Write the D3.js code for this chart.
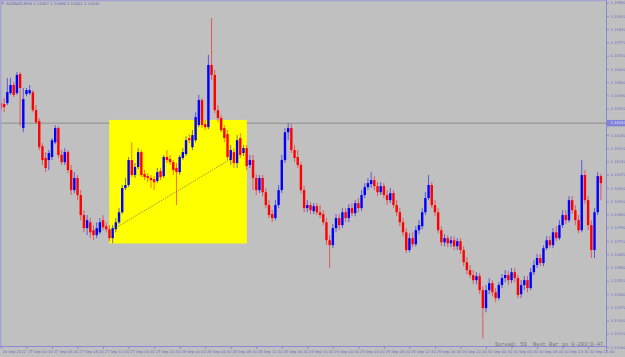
<!DOCTYPE html>
<html>
<head>
<meta charset="utf-8">
<script src="https://cdn.jsdelivr.net/npm/d3@7"></script>
<style>
  body { margin: 0; background: #c0c0c0; }
  svg { display: block; }
</style>
</head>
<body>
<div id="chart"></div>
<script>
// AUDNZD M30, bars from 26 Sep 20:30 onwards
var open = [
  1.14449, 1.14444, 1.14449, 1.14502, 1.14545, 1.14502, 1.14603, 1.14317, 1.14497, 1.14502,
  1.14507, 1.14412, 1.14354, 1.14221, 1.14159, 1.14148, 1.14164, 1.14242, 1.14317, 1.14175,
  1.14137, 1.14190, 1.14095, 1.13989, 1.14053, 1.13963, 1.13857, 1.13788, 1.13819, 1.13777,
  1.13751, 1.13766, 1.13830, 1.13798, 1.13782, 1.13735, 1.13782, 1.13819, 1.13872, 1.14000,
  1.14016, 1.14148, 1.14069, 1.14111, 1.14190, 1.14074, 1.14063, 1.14053, 1.14047, 1.14037,
  1.14090, 1.14063, 1.14164, 1.14153, 1.14137, 1.14106, 1.14084, 1.14159, 1.14180, 1.14264,
  1.14216, 1.14253, 1.14333, 1.14465, 1.14338, 1.14322, 1.14651, 1.14598, 1.14412, 1.14370,
  1.14317, 1.14285, 1.14148, 1.14190, 1.14132, 1.14264, 1.14185, 1.14211, 1.14122, 1.14148,
  1.14053, 1.13989, 1.14053, 1.13978, 1.13910, 1.13862, 1.13841, 1.13910, 1.13989, 1.14148,
  1.14295, 1.14317, 1.14201, 1.14164, 1.14122, 1.13989, 1.13894, 1.13910, 1.13878, 1.13904,
  1.13872, 1.13862, 1.13819, 1.13724, 1.13698, 1.13788, 1.13841, 1.13804, 1.13872, 1.13841,
  1.13894, 1.13867, 1.13920, 1.13894, 1.13963, 1.14005, 1.14021, 1.14042, 1.14010, 1.13978,
  1.14010, 1.13963, 1.13936, 1.13973, 1.13910, 1.13872, 1.13819, 1.13766, 1.13672, 1.13735,
  1.13703, 1.13777, 1.13798, 1.13872, 1.13947, 1.14016, 1.13910, 1.13872, 1.13777, 1.13713,
  1.13735, 1.13708, 1.13724, 1.13692, 1.13719, 1.13672, 1.13608, 1.13566, 1.13540, 1.13513,
  1.13534, 1.13460, 1.13365, 1.13460, 1.13497, 1.13449, 1.13418, 1.13487, 1.13524, 1.13540,
  1.13513, 1.13555, 1.13524, 1.13439, 1.13487, 1.13513, 1.13471, 1.13555, 1.13593, 1.13630,
  1.13603, 1.13682, 1.13724, 1.13698, 1.13766, 1.13735, 1.13804, 1.13857, 1.13830, 1.13936,
  1.13883, 1.13830, 1.13777, 1.14069, 1.13936, 1.13804, 1.13672, 1.13872, 1.14063
];
var high = [
  1.14465, 1.14476, 1.14582, 1.14582, 1.14560, 1.14613, 1.14613, 1.14529, 1.14529, 1.14545,
  1.14518, 1.14439, 1.14370, 1.14237, 1.14190, 1.14201, 1.14264, 1.14333, 1.14327, 1.14201,
  1.14211, 1.14201, 1.14122, 1.14084, 1.14069, 1.13989, 1.13883, 1.13857, 1.13841, 1.13804,
  1.13819, 1.13841, 1.13857, 1.13819, 1.13804, 1.13804, 1.13841, 1.13894, 1.14016, 1.14053,
  1.14164, 1.14242, 1.14132, 1.14211, 1.14201, 1.14095, 1.14079, 1.14069, 1.14063, 1.14106,
  1.14106, 1.14175, 1.14201, 1.14175, 1.14148, 1.14132, 1.14175, 1.14211, 1.14274, 1.14285,
  1.14306, 1.14401, 1.14492, 1.14476, 1.14359, 1.14704, 1.14899, 1.14624, 1.14439, 1.14386,
  1.14333, 1.14306, 1.14227, 1.14211, 1.14280, 1.14290, 1.14227, 1.14227, 1.14175, 1.14175,
  1.14074, 1.14069, 1.14069, 1.14000, 1.13936, 1.13883, 1.13936, 1.14016, 1.14175, 1.14317,
  1.14343, 1.14338, 1.14227, 1.14201, 1.14137, 1.14010, 1.13936, 1.13925, 1.13920, 1.13920,
  1.13910, 1.13883, 1.13841, 1.13751, 1.13809, 1.13862, 1.13862, 1.13894, 1.13894, 1.13915,
  1.13920, 1.13936, 1.13947, 1.13989, 1.14026, 1.14053, 1.14084, 1.14063, 1.14031, 1.14031,
  1.14026, 1.13989, 1.14000, 1.13989, 1.13936, 1.13894, 1.13841, 1.13788, 1.13761, 1.13766,
  1.13798, 1.13830, 1.13894, 1.13978, 1.14069, 1.14031, 1.13936, 1.13894, 1.13798, 1.13756,
  1.13751, 1.13745, 1.13745, 1.13735, 1.13735, 1.13692, 1.13635, 1.13593, 1.13566, 1.13555,
  1.13550, 1.13481, 1.13487, 1.13524, 1.13513, 1.13471, 1.13502, 1.13545, 1.13566, 1.13561,
  1.13577, 1.13577, 1.13540, 1.13513, 1.13534, 1.13534, 1.13577, 1.13619, 1.13651, 1.13651,
  1.13698, 1.13745, 1.13745, 1.13788, 1.13798, 1.13830, 1.13883, 1.13883, 1.13957, 1.13957,
  1.13910, 1.13857, 1.14148, 1.14095, 1.13957, 1.13830, 1.13894, 1.14084, 1.14074
];
var low = [
  1.14401, 1.14401, 1.14439, 1.14492, 1.14481, 1.14492, 1.14327, 1.14295, 1.14486, 1.14492,
  1.14401, 1.14338, 1.14201, 1.14122, 1.14084, 1.14095, 1.14148, 1.14232, 1.14159, 1.14122,
  1.14122, 1.14079, 1.13963, 1.13973, 1.13936, 1.13830, 1.13766, 1.13751, 1.13735, 1.13724,
  1.13735, 1.13756, 1.13777, 1.13766, 1.13719, 1.13708, 1.13766, 1.13809, 1.13862, 1.13989,
  1.14005, 1.14058, 1.14053, 1.14100, 1.14058, 1.14042, 1.14031, 1.14000, 1.13989, 1.14026,
  1.14042, 1.14053, 1.14132, 1.14122, 1.14069, 1.13910, 1.14069, 1.14148, 1.14169, 1.14237,
  1.14201, 1.14242, 1.14322, 1.14317, 1.14306, 1.14311, 1.14571, 1.14396, 1.14348, 1.14295,
  1.14242, 1.14148, 1.14122, 1.14106, 1.14106, 1.14159, 1.14169, 1.14095, 1.14106, 1.13989,
  1.13963, 1.13973, 1.13957, 1.13894, 1.13841, 1.13819, 1.13830, 1.13894, 1.13973, 1.14132,
  1.14253, 1.14185, 1.14137, 1.14106, 1.13973, 1.13872, 1.13872, 1.13862, 1.13862, 1.13857,
  1.13841, 1.13804, 1.13698, 1.13577, 1.13682, 1.13766, 1.13777, 1.13788, 1.13819, 1.13819,
  1.13851, 1.13851, 1.13872, 1.13878, 1.13947, 1.13989, 1.14000, 1.13989, 1.13957, 1.13963,
  1.13947, 1.13910, 1.13920, 1.13894, 1.13851, 1.13798, 1.13745, 1.13656, 1.13661, 1.13687,
  1.13692, 1.13756, 1.13782, 1.13857, 1.13936, 1.13894, 1.13851, 1.13761, 1.13692, 1.13692,
  1.13687, 1.13687, 1.13672, 1.13672, 1.13651, 1.13587, 1.13545, 1.13524, 1.13492, 1.13492,
  1.13439, 1.13206, 1.13343, 1.13439, 1.13428, 1.13396, 1.13407, 1.13471, 1.13502, 1.13487,
  1.13497, 1.13502, 1.13418, 1.13418, 1.13460, 1.13449, 1.13460, 1.13540, 1.13577, 1.13587,
  1.13587, 1.13672, 1.13682, 1.13682, 1.13719, 1.13724, 1.13788, 1.13809, 1.13819, 1.13862,
  1.13804, 1.13761, 1.13766, 1.13915, 1.13777, 1.13630, 1.13630, 1.13857, 1.13936
];
var close = [
  1.14423, 1.14428, 1.14507, 1.14545, 1.14492, 1.14598, 1.14529, 1.14470, 1.14518, 1.14518,
  1.14412, 1.14348, 1.14216, 1.14148, 1.14106, 1.14185, 1.14253, 1.14317, 1.14175, 1.14137,
  1.14190, 1.14095, 1.13989, 1.14053, 1.13963, 1.13857, 1.13788, 1.13830, 1.13766, 1.13751,
  1.13788, 1.13819, 1.13793, 1.13782, 1.13735, 1.13788, 1.13819, 1.13872, 1.14000, 1.14016,
  1.14148, 1.14069, 1.14111, 1.14190, 1.14069, 1.14058, 1.14053, 1.14042, 1.14031, 1.14084,
  1.14058, 1.14164, 1.14148, 1.14137, 1.14095, 1.14084, 1.14164, 1.14190, 1.14253, 1.14253,
  1.14280, 1.14375, 1.14465, 1.14333, 1.14322, 1.14651, 1.14598, 1.14412, 1.14370, 1.14306,
  1.14264, 1.14164, 1.14201, 1.14132, 1.14253, 1.14175, 1.14211, 1.14116, 1.14148, 1.14053,
  1.13989, 1.14053, 1.13978, 1.13910, 1.13857, 1.13841, 1.13910, 1.13989, 1.14148, 1.14295,
  1.14317, 1.14201, 1.14159, 1.14122, 1.13989, 1.13894, 1.13910, 1.13883, 1.13904, 1.13872,
  1.13857, 1.13819, 1.13724, 1.13698, 1.13788, 1.13841, 1.13804, 1.13872, 1.13841, 1.13894,
  1.13867, 1.13920, 1.13894, 1.13963, 1.14005, 1.14026, 1.14042, 1.14010, 1.13978, 1.14010,
  1.13963, 1.13936, 1.13973, 1.13910, 1.13872, 1.13819, 1.13766, 1.13672, 1.13735, 1.13703,
  1.13777, 1.13804, 1.13872, 1.13947, 1.14016, 1.13910, 1.13872, 1.13777, 1.13713, 1.13735,
  1.13708, 1.13724, 1.13692, 1.13719, 1.13672, 1.13608, 1.13566, 1.13540, 1.13513, 1.13534,
  1.13460, 1.13365, 1.13460, 1.13497, 1.13449, 1.13418, 1.13487, 1.13524, 1.13540, 1.13513,
  1.13555, 1.13524, 1.13434, 1.13487, 1.13513, 1.13471, 1.13555, 1.13593, 1.13630, 1.13603,
  1.13682, 1.13724, 1.13698, 1.13766, 1.13735, 1.13804, 1.13857, 1.13830, 1.13936, 1.13883,
  1.13830, 1.13777, 1.14069, 1.13936, 1.13804, 1.13672, 1.13872, 1.14063, 1.14026
];

// one label every 8 bars (4 hours)
var timeLabels = [
  "26 Sep 2022", "27 Sep 00:30", "27 Sep 04:30", "27 Sep 08:30", "27 Sep 12:30", "27 Sep 16:30",
  "27 Sep 20:30", "28 Sep 00:30", "28 Sep 04:30", "28 Sep 08:30", "28 Sep 12:30", "28 Sep 16:30",
  "28 Sep 20:30", "29 Sep 00:30", "29 Sep 04:30", "29 Sep 08:30", "29 Sep 12:30", "29 Sep 16:30",
  "29 Sep 20:30", "30 Sep 00:30", "30 Sep 04:30", "30 Sep 08:30", "30 Sep 12:30", "30 Sep 16:30"
];
var priceTicks = [
  1.14980, 1.14910, 1.14840, 1.14770, 1.14700, 1.14630, 1.14560, 1.14490, 1.14420, 1.14350,
  1.14280, 1.14210, 1.14140, 1.14070, 1.14000, 1.13930, 1.13860, 1.13790, 1.13720, 1.13650,
  1.13580, 1.13510, 1.13440, 1.13370, 1.13300, 1.13230, 1.13160
];

// objects on the chart
var bidPrice = 1.14343;
var boxBars = [33.95, 77.05];
var boxPrices = [1.14360, 1.13707];
var trendBars = [36, 72.7];
var trendPrices = [1.13790, 1.14160];
var titleText = "AUDNZD,M30  1.14327 1.14380 1.14322 1.14345";
var infoText = "Spread: 59  Next Bar in 0-203:0-47";

var width = 625, height = 357;
var plotW = 606, plotH = 346.5;
var axisColor = "#8888d8", textColor = "#6c6cc4";

var svg = d3.select("#chart").append("svg")
  .attr("width", width)
  .attr("height", height);

svg.append("rect")
  .attr("width", width).attr("height", height)
  .attr("fill", "#c0c0c0");

var x = d3.scaleLinear().domain([-0.3, 189.6]).range([0, plotW]);
var y = d3.scaleLinear().domain([1.13160, 1.14980]).range([346.9, 2.7]);

svg.append("clipPath").attr("id", "plotclip")
  .append("rect").attr("width", plotW).attr("height", plotH);

var plot = svg.append("g").attr("clip-path", "url(#plotclip)");

// bid line
plot.append("line")
  .attr("x1", 0).attr("x2", plotW)
  .attr("y1", y(bidPrice)).attr("y2", y(bidPrice))
  .attr("stroke", "#8c8c8c")
  .attr("stroke-width", 1);

// yellow rectangle object
plot.append("rect")
  .attr("x", x(boxBars[0]))
  .attr("y", y(boxPrices[0]))
  .attr("width", x(boxBars[1]) - x(boxBars[0]))
  .attr("height", y(boxPrices[1]) - y(boxPrices[0]))
  .attr("fill", "#ffff00");

var bars = d3.range(open.length);
var bull = function(i) { return close[i] >= open[i]; };

//wicks
plot.selectAll(".wick").data(bars).enter().append("line")
  .attr("class", "wick")
  .attr("x1", function(i) { return x(i); })
  .attr("x2", function(i) { return x(i); })
  .attr("y1", function(i) { return y(high[i]); })
  .attr("y2", function(i) { return y(low[i]); })
  .attr("stroke", function(i) { return bull(i) ? "#0000ff" : "#ff0000"; })
  .attr("stroke-opacity", 0.55)
  .attr("stroke-width", 1);

//bodies
plot.selectAll(".body").data(bars).enter().append("rect")
  .attr("class", "body")
  .attr("x", function(i) { return x(i) - 1.2; })
  .attr("width", 2.4)
  .attr("y", function(i) { return y(Math.max(open[i], close[i])); })
  .attr("height", function(i) { return Math.max(1, Math.abs(y(open[i]) - y(close[i]))); })
  .attr("fill", function(i) { return bull(i) ? "#0000ff" : "#ff0000"; });

// dotted trendline
plot.append("line")
  .attr("x1", x(trendBars[0])).attr("y1", y(trendPrices[0]))
  .attr("x2", x(trendBars[1])).attr("y2", y(trendPrices[1]))
  .attr("stroke", "#6e6e58")
  .attr("stroke-width", 0.9)
  .attr("stroke-dasharray", "1,1.2");

// frame
svg.append("path")
  .attr("d", "M0.75," + plotH + "V0.5H" + plotW)
  .attr("fill", "none")
  .attr("stroke", "#a4a4d4")
  .attr("stroke-width", 1.5);

// price axis
var yAxis = svg.append("g")
  .attr("transform", "translate(" + (plotW + 0.5) + ",0)")
  .call(d3.axisRight(y).tickValues(priceTicks).tickSize(2.5).tickSizeOuter(0)
    .tickFormat(d3.format(".5f")));
yAxis.select(".domain").attr("stroke", axisColor).attr("d", "M0,0V" + (height - 6));
yAxis.selectAll(".tick line").attr("stroke", axisColor);
yAxis.selectAll(".tick text")
  .attr("x", 4)
  .attr("fill", textColor)
  .style("font-family", "DejaVu Sans")
  .style("font-size", "3.7px");

// bid label
var bidLabel = svg.append("g").attr("transform", "translate(" + (plotW + 1) + "," + y(bidPrice) + ")");
bidLabel.append("rect")
  .attr("x", 0).attr("y", -3.2)
  .attr("width", width - plotW - 1).attr("height", 6.4)
  .attr("fill", "#8080d8");
bidLabel.append("text")
  .attr("x", 3.5).attr("dy", "0.35em")
  .attr("fill", "#ececff")
  .style("font-family", "DejaVu Sans")
  .style("font-size", "3.7px")
  .text(d3.format(".5f")(bidPrice));

// time axis
var labelBars = timeLabels.map(function(d, i) { return i * 8; });
var xAxis = svg.append("g")
  .attr("transform", "translate(0," + plotH + ")")
  .call(d3.axisBottom(x).tickValues(labelBars).tickSize(2.5).tickSizeOuter(0)
    .tickFormat(function(d, i) { return timeLabels[i]; }));
xAxis.select(".domain").attr("stroke", axisColor).attr("d", "M0,0H" + (plotW + 0.5));
xAxis.selectAll(".tick line").attr("stroke", axisColor);
xAxis.selectAll(".tick text")
  .attr("text-anchor", "start")
  .attr("x", 1)
  .attr("y", 3.5)
  .attr("fill", textColor)
  .style("font-family", "DejaVu Sans")
  .style("font-size", "3.7px");

// title
svg.append("path")
  .attr("d", "M1.5,2.5L4,2.5L2.75,4.5Z")
  .attr("fill", "#6c6cc4");
svg.append("text")
  .attr("x", 6).attr("y", 5.2)
  .attr("fill", "#6060b8")
  .style("font-family", "DejaVu Sans")
  .style("font-size", "3.8px")
  .text(titleText);

// info text from the indicator
svg.append("text")
  .attr("x", 603).attr("y", 346)
  .attr("text-anchor", "end")
  .attr("fill", "#767676")
  .style("font-family", "Liberation Mono")
  .style("font-size", "5.3px")
  .style("white-space", "pre")
  .attr("xml:space", "preserve")
  .text(infoText);
</script>
</body>
</html>
